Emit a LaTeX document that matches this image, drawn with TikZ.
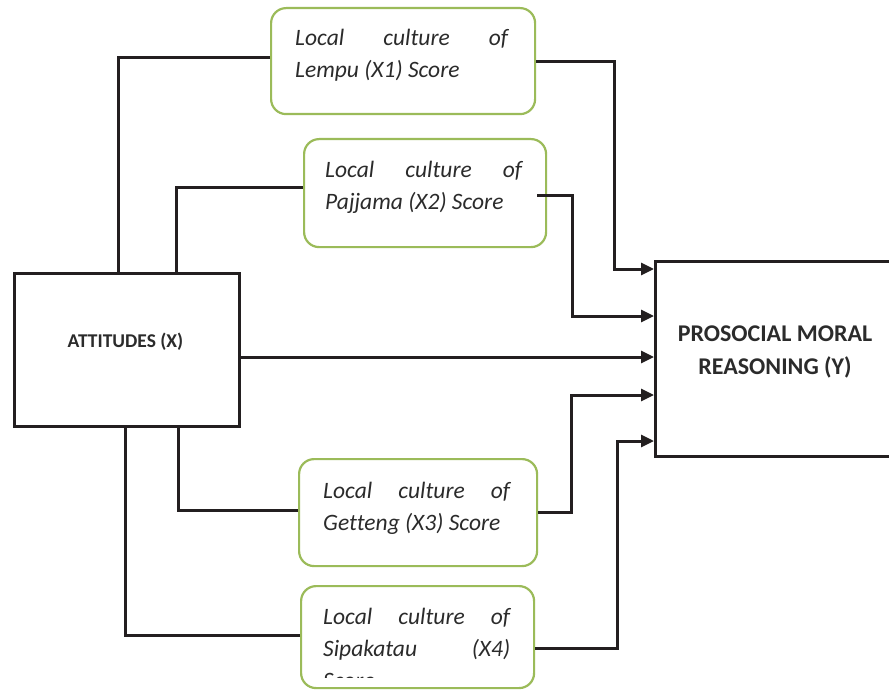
\documentclass[tikz,border=0pt]{standalone}
\usepackage{fontspec}
\setmainfont[Ligatures=NoCommon]{Carlito}
\usetikzlibrary{arrows.meta}
\definecolor{boxgreen}{HTML}{9BBB59}
\definecolor{ink}{HTML}{231F20}
\definecolor{txt}{HTML}{2B2B2B}
\tikzset{
  greenbox/.style={draw=boxgreen, line width=2.2pt, rounded corners=15pt, inner sep=0pt},
  blackbox/.style={draw=ink, line width=3pt, inner sep=0pt},
  conn/.style={draw=ink, line width=3pt},
  arr/.style={-{Triangle[length=13pt,width=12pt]}},
  itxt/.style={inner sep=0pt, anchor=base west, align=left, text=txt,
    font=\fontsize{23.5}{32}\selectfont\itshape},
  btxt/.style={inner sep=0pt, anchor=base, align=center, text=txt, font=\bfseries}
}
\begin{document}
\begin{tikzpicture}[x=1pt,y=-1pt]
\useasboundingbox (0,0) rectangle (889,690);
% boxes
\node[greenbox, minimum width=264pt, minimum height=106pt, anchor=north west] (lempu) at (270,7) {};
\node[greenbox, minimum width=242pt, minimum height=108pt, anchor=north west] (pajjama) at (303,138) {};
\node[greenbox, minimum width=238pt, minimum height=107pt, anchor=north west] (getteng) at (298,458) {};
\node[greenbox, minimum width=233pt, minimum height=102pt, anchor=north west] (sipa) at (300,585) {};
\node[blackbox, minimum width=225pt, minimum height=153pt, anchor=north west] (att) at (13,272) {};
\node[blackbox, minimum width=240pt, minimum height=195pt, anchor=north west] (Y) at (654,260) {};
% texts (anchor = baseline of the last line)
\node[itxt] (tl) at (295,78) {\hbox to 213pt{Local\hfill culture\hfill of}\\Lempu (X1) Score};
\node[itxt] (tp) at (325,209) {\hbox to 197pt{Local\hfill culture\hfill of}\\Pajjama (X2) Score};
\node[itxt] (tg) at (323,530) {\hbox to 187pt{Local\hfill culture\hfill of}\\Getteng (X3) Score};
\begin{scope}
\clip (300,585) rectangle (533,677);
\node[itxt] (ts) at (323,688) {\hbox to 187pt{Local\hfill culture\hfill of}\\\hbox to 187pt{Sipakatau\hfill(X4)}\\Score};
\end{scope}
\node[btxt, font=\fontsize{19.5}{22}\selectfont\bfseries] (ta) at (125.5,347) {ATTITUDES (X)};
\node[btxt, font=\fontsize{24}{33}\selectfont\bfseries] (ty) at (775,374) {PROSOCIAL MORAL\\REASONING (Y)};
% connectors from attitudes
\draw[conn] (lempu.west |- 0,58) -- (118,58) -- (118,0 |- att.north);
\draw[conn] (pajjama.west |- 0,187) -- (176,187) -- (176,0 |- att.north);
\draw[conn] (getteng.west |- 0,510) -- (178,510) -- (178,0 |- att.south);
\draw[conn] (sipa.west |- 0,635) -- (125,635) -- (125,0 |- att.south);
\draw[conn, arr] (att.east |- 0,357) -- (Y.west |- 0,357);
% connectors to Y
\draw[conn, arr] (lempu.east |- 0,62) -- (614,62) -- (614,269) -- (Y.west |- 0,269);
\draw[conn, arr] (537,195) -- (572,195) -- (572,316) -- (Y.west |- 0,316);
\draw[conn, arr] (getteng.east |- 0,512) -- (571,512) -- (571,395) -- (Y.west |- 0,395);
\draw[conn, arr] (sipa.east |- 0,648) -- (617,648) -- (617,441) -- (Y.west |- 0,441);
\end{tikzpicture}
\end{document}
